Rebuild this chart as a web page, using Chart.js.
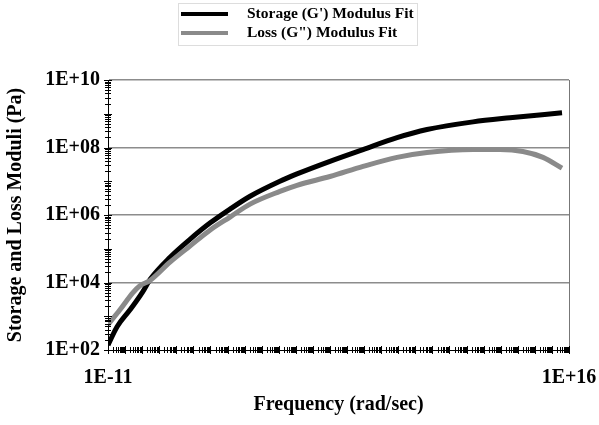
<!DOCTYPE html>
<html lang="en">
<head>
    <meta charset="UTF-8">
    <title>Storage and Loss Moduli</title>
    <script src="https://cdn.jsdelivr.net/npm/chart.js"></script>
    <style>
        body { margin: 0; background: #fff; }
        #wrap { width: 599px; height: 425px; position: relative; }
    </style>
</head>
<body>
    <div id="wrap"><canvas id="modChart"></canvas></div>
    <script>
        // Values
        const seriesLabels = ["Storage (G') Modulus Fit", "Loss (G\") Modulus Fit"];
        const storageFreq = [1e-11, 3.4e-11, 1.95e-10, 1.1e-9, 2.9e-9, 4.3e-8, 6.3e-7, 9.3e-6, 1.4e-4, 2.1e-3, 0.117, 1.17, 1e2, 8.7e3, 8.5e5, 4.8e7, 2.4e10, 3.5e12, 3.9e15];
        const storage = [1.4e2, 4.9e2, 1.55e3, 5.4e3, 1.23e4, 5.6e4, 1.9e5, 5.75e5, 1.5e6, 3.6e6, 1.0e7, 1.65e7, 3.9e7, 8.7e7, 1.95e8, 3.4e8, 5.75e8, 7.6e8, 1.07e9];
        const lossFreq = [1e-11, 5e-11, 2.9e-10, 7.4e-10, 2.9e-9, 4.3e-8, 6.3e-7, 9.3e-6, 1.4e-4, 2.1e-3, 0.117, 1.17, 1e2, 8.7e3, 8.5e5, 4.8e7, 2.4e10, 9.1e11, 2e13, 3e14, 3.9e15];
        const loss = [5.6e2, 1.55e3, 5e3, 8e3, 1.15e4, 4.0e4, 1.2e5, 3.55e5, 8.7e5, 2.1e6, 5.0e6, 7.6e6, 1.38e7, 2.75e7, 5.1e7, 7.1e7, 8.7e7, 8.7e7, 7.6e7, 5.1e7, 2.45e7];
        const xLabelExps = [-11, 16];
        const yLabelExps = [2, 4, 6, 8, 10];

        const serif = '"Liberation Serif", "Times New Roman", serif';
        const black = '#000000';
        const grey = '#8a8a8a';

        function toPoints(xs, ys) {
            return xs.map((x, i) => ({ x: x, y: ys[i] }));
        }

        function expOf(v) {
            const e = Math.log10(v);
            return Math.abs(e - Math.round(e)) < 1e-9 ? Math.round(e) : null;
        }

        function sci(e) {
            const a = Math.abs(e);
            return '1E' + (e < 0 ? '-' : '+') + (a < 10 ? '0' + a : a);
        }

        // tick positions at every 1..9 of each decade
        function decadeTicks(scale, lo, hi) {
            const t = [];
            for (let e = lo; e <= hi; e++) {
                for (let m = 1; m <= 9; m++) {
                    if (e === hi && m > 1) break;
                    t.push({ value: m * Math.pow(10, e) });
                }
            }
            scale.ticks = t;
        }

        // short tick marks straddling both axes, placed by the scales
        const tickMarks = {
            id: 'tickMarks',
            afterDatasetsDraw(chart) {
                const ctx = chart.ctx;
                const xs = chart.scales.x, ys = chart.scales.y;
                const area = chart.chartArea;
                ctx.save();
                ctx.strokeStyle = '#000';
                ctx.lineWidth = 1;
                ctx.beginPath();
                xs.ticks.forEach(t => {
                    const px = Math.round(xs.getPixelForValue(t.value)) + 0.5;
                    const len = expOf(t.value) !== null ? 4 : 3;
                    ctx.moveTo(px, area.bottom - len);
                    ctx.lineTo(px, area.bottom + len);
                });
                ys.ticks.forEach(t => {
                    const py = Math.round(ys.getPixelForValue(t.value)) + 0.5;
                    const len = expOf(t.value) !== null ? 4 : 3;
                    ctx.moveTo(area.left - len, py);
                    ctx.lineTo(area.left + len, py);
                });
                ctx.stroke();
                ctx.restore();
            }
        };

        const legendBox = {
            id: 'legendBox',
            afterDraw(chart) {
                const ctx = chart.ctx;
                ctx.save();
                ctx.strokeStyle = '#dddddd';
                ctx.lineWidth = 1;
                ctx.strokeRect(178.5, 3.5, 239, 42);
                const colors = [black, grey];
                const rows = [14, 33];
                ctx.font = 'bold 15.5px ' + serif;
                ctx.textBaseline = 'middle';
                ctx.fillStyle = '#000';
                seriesLabels.forEach((lab, i) => {
                    ctx.strokeStyle = colors[i];
                    ctx.lineWidth = 4;
                    ctx.beginPath();
                    ctx.moveTo(181, rows[i]);
                    ctx.lineTo(228, rows[i]);
                    ctx.stroke();
                    ctx.fillText(lab, 247, rows[i]);
                });
                ctx.restore();
            }
        };

        new Chart(document.getElementById('modChart'), {
            type: 'line',
            data: {
                datasets: [
                    {
                        label: seriesLabels[1],
                        data: toPoints(lossFreq, loss),
                        borderColor: grey,
                        borderWidth: 5,
                        pointRadius: 0,
                        cubicInterpolationMode: 'monotone',
                        fill: false
                    },
                    {
                        label: seriesLabels[0],
                        data: toPoints(storageFreq, storage),
                        borderColor: black,
                        borderWidth: 5,
                        pointRadius: 0,
                        cubicInterpolationMode: 'monotone',
                        fill: false
                    }
                ]
            },
            options: {
                responsive: true,
                maintainAspectRatio: false,
                animation: false,
                layout: { padding: { top: 80, left: 0, right: 30, bottom: 0 } },
                plugins: {
                    legend: { display: false },
                    tooltip: { enabled: false }
                },
                scales: {
                    x: {
                        type: 'logarithmic',
                        min: 1e-11,
                        max: 1e16,
                        afterBuildTicks: s => decadeTicks(s, -11, 16),
                        afterFit: s => { s.height = 75; },
                        border: { display: true, color: '#000', width: 1 },
                        grid: {
                            drawOnChartArea: false,
                            drawTicks: true,
                            tickLength: 14,
                            tickColor: 'rgba(0,0,0,0)'
                        },
                        ticks: {
                            autoSkip: false,
                            maxRotation: 0,
                            padding: 2,
                            color: '#000',
                            font: { family: serif, size: 20, weight: 'bold' },
                            callback: v => {
                                const e = expOf(v);
                                return (e !== null && xLabelExps.includes(e)) ? sci(e) : '';
                            }
                        },
                        title: {
                            display: true,
                            text: 'Frequency (rad/sec)',
                            color: '#000',
                            font: { family: serif, size: 20, weight: 'bold' },
                            padding: { top: 2, bottom: 8 }
                        }
                    },
                    y: {
                        type: 'logarithmic',
                        min: 1e2,
                        max: 1e10,
                        afterBuildTicks: s => decadeTicks(s, 2, 10),
                        afterFit: s => { s.width = 108; },
                        border: { display: true, color: '#000', width: 1 },
                        grid: {
                            drawTicks: false,
                            color: c => {
                                const e = expOf(c.tick.value);
                                return (e !== null && e > 2 && yLabelExps.includes(e)) ? '#8c8c8c' : 'rgba(0,0,0,0)';
                            },
                            lineWidth: 1.5
                        },
                        ticks: {
                            autoSkip: false,
                            padding: 8,
                            color: '#000',
                            font: { family: serif, size: 20, weight: 'bold' },
                            callback: v => {
                                const e = expOf(v);
                                return (e !== null && yLabelExps.includes(e)) ? sci(e) : '';
                            }
                        },
                        title: {
                            display: true,
                            text: 'Storage and Loss Moduli (Pa)',
                            color: '#000',
                            font: { family: serif, size: 20, weight: 'bold' },
                            padding: { bottom: 0 }
                        }
                    },
                    yRight: {
                        type: 'logarithmic',
                        position: 'right',
                        min: 1e2,
                        max: 1e10,
                        afterFit: s => { s.width = 0; },
                        border: { display: true, color: '#777', width: 1, dash: [7, 4] },
                        grid: { display: false },
                        ticks: { display: false }
                    }
                }
            },
            plugins: [tickMarks, legendBox]
        });
    </script>
</body>
</html>
